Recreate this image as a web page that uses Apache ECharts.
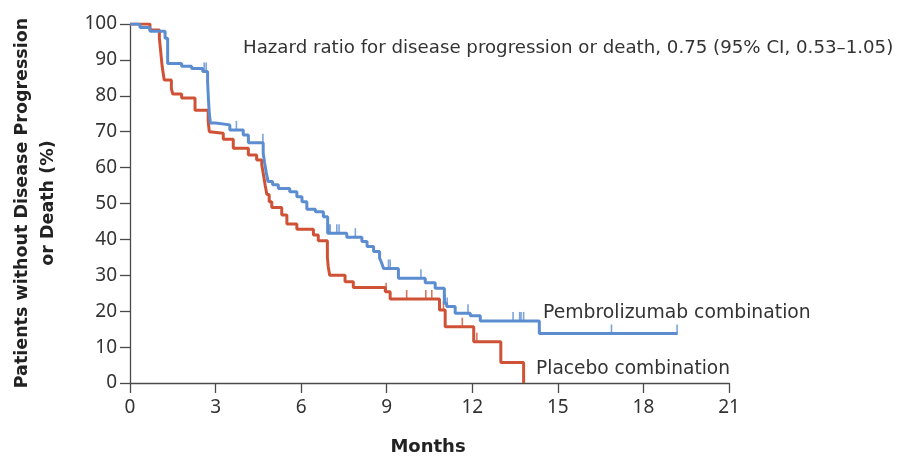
<!DOCTYPE html>
<html>
<head>
<meta charset="utf-8">
<script src="https://cdn.jsdelivr.net/npm/echarts@6/dist/echarts.min.js"></script>
<style>
  html, body { margin: 0; padding: 0; background: #fff; }
  #chart { width: 907px; height: 458px; }
</style>
</head>
<body>
<div id="chart"></div>
<script>
// Kaplan-Meier step curves: event times (months) and survival (%)
const pembroTimes = [0, 0.35, 0.7, 1.23, 1.32, 1.81, 2.16, 2.55, 2.72, 2.75, 2.78, 2.82, 3.0, 3.5, 3.97, 4.15, 4.67, 4.72, 4.78, 4.84, 5.0, 5.2, 5.6, 5.85, 6.03, 6.2, 6.5, 6.78, 6.93, 7.6, 8.13, 8.31, 8.54, 8.75, 8.82, 8.89, 9.41, 10.35, 10.7, 11.02, 11.1, 11.4, 11.93, 12.28, 14.35, 19.2];
const pembroValues = [100, 99, 98, 96, 89, 88.2, 87.6, 86.8, 84, 79, 75, 72.4, 71.9, 70.5, 69.1, 66.9, 64, 61.3, 58.5, 56.1, 55.2, 54.2, 53.3, 51.9, 50.5, 48.4, 47.7, 46.3, 41.7, 40.6, 39.4, 38, 36.6, 34.8, 33.5, 31.9, 29.2, 27.9, 26.4, 22.2, 21.3, 19.4, 18.7, 17.3, 13.8, 13.8];
const pembroCensored = [2.6, 2.67, 3.73, 4.66, 6.98, 7.02, 7.25, 7.33, 7.9, 9.06, 9.12, 10.2, 11.05, 11.12, 11.85, 13.43, 13.66, 13.71, 13.8, 16.88, 19.18];

const placeboTimes = [0, 0.7, 1.03, 1.08, 1.13, 1.2, 1.45, 1.5, 1.81, 2.28, 2.74, 2.78, 2.8, 3.27, 3.62, 4.15, 4.44, 4.62, 4.68, 4.74, 4.8, 4.88, 4.97, 5.32, 5.5, 5.85, 6.43, 6.6, 6.92, 6.95, 7.0, 7.54, 7.83, 8.95, 9.12, 10.85, 11.05, 12.05, 13.0, 13.8];
const placeboValues = [100, 98.3, 96, 92, 88, 84.4, 82, 80.5, 79.4, 76, 73, 70, 69.6, 67.9, 65.4, 63.5, 62.1, 60.7, 58, 55, 52.5, 50.5, 48.9, 46.8, 44.3, 42.8, 41.2, 39.6, 35, 32.4, 30, 28.2, 26.6, 25.4, 23.4, 20.3, 15.7, 11.5, 5.7, 0];
const placeboCensored = [8.98, 9.7, 10.37, 10.58, 10.99, 11.05, 11.65, 12.16];

const xTicks = [0, 3, 6, 9, 12, 15, 18, 21];
const yTicks = [0, 10, 20, 30, 40, 50, 60, 70, 80, 90, 100];

const BLUE = '#5b8dd0';
const RED = '#cf5236';
const FONT = 'DejaVu Sans';
const TICK_FONT = 'Noto Sans';

function pairs(times, values) {
  return times.map((t, i) => [t, values[i]]);
}
// survival level of a step curve at time t
function levelAt(times, values, t) {
  let v = values[0];
  for (let i = 0; i < times.length; i++) {
    if (times[i] <= t) v = values[i]; else break;
  }
  return v;
}
function censorPoints(cens, times, values) {
  return cens.map(t => [t, levelAt(times, values, t)]);
}

const chart = echarts.init(document.getElementById('chart'), null, { renderer: 'canvas' });

const censorStyle = (color) => ({
  type: 'scatter',
  symbol: 'rect',
  symbolSize: [1.6, 9],
  symbolOffset: [0, -4.5],
  itemStyle: { color: color },
  silent: true,
  z: 3
});

const axisColor = '#4a4a4a';

chart.setOption({
  animation: false,
  backgroundColor: '#ffffff',
  grid: { left: 130, right: 178, top: 24, bottom: 75, containLabel: false },
  xAxis: {
    type: 'value',
    min: 0, max: 21, interval: 3,
    axisLine: { show: true, lineStyle: { color: axisColor, width: 1.3 } },
    axisTick: { show: true, length: 10, inside: false, lineStyle: { color: axisColor, width: 1.3 } },
    axisLabel: { color: '#333', fontFamily: TICK_FONT, fontSize: 19, margin: 15,
      formatter: v => xTicks.includes(v) ? String(v) : '' },
    splitLine: { show: false }
  },
  yAxis: {
    type: 'value',
    min: 0, max: 100, interval: 10,
    axisLine: { show: true, lineStyle: { color: axisColor, width: 1.3 } },
    axisTick: { show: true, length: 10, inside: false, lineStyle: { color: axisColor, width: 1.3 } },
    axisLabel: { color: '#333', fontFamily: TICK_FONT, fontSize: 19, margin: 13,
      formatter: v => yTicks.includes(v) ? String(v) : '' },
    splitLine: { show: false }
  },
  series: [
    {
      name: 'Placebo combination',
      type: 'line', step: 'end', symbol: 'none',
      data: pairs(placeboTimes, placeboValues),
      lineStyle: { color: RED, width: 3 }, z: 2
    },
    Object.assign(censorStyle(RED), { data: censorPoints(placeboCensored, placeboTimes, placeboValues) }),
    {
      name: 'Pembrolizumab combination',
      type: 'line', step: 'end', symbol: 'none',
      data: pairs(pembroTimes, pembroValues),
      lineStyle: { color: BLUE, width: 3 }, z: 4
    },
    Object.assign(censorStyle(BLUE), { data: censorPoints(pembroCensored, pembroTimes, pembroValues), z: 5 })
  ],
  graphic: [
    {
      type: 'text', x: 243, y: 48,
      style: { text: 'Hazard ratio for disease progression or death, 0.75 (95% CI, 0.53\u20131.05)',
        fill: '#333', font: '18.2px "' + FONT + '"', textVerticalAlign: 'middle', textAlign: 'left' }
    },
    {
      type: 'text', x: 543, y: 313,
      style: { text: 'Pembrolizumab combination', fill: '#333', font: '18.8px "' + FONT + '"',
        textVerticalAlign: 'middle', textAlign: 'left' }
    },
    {
      type: 'text', x: 536, y: 369,
      style: { text: 'Placebo combination', fill: '#333', font: '18.6px "' + FONT + '"',
        textVerticalAlign: 'middle', textAlign: 'left' }
    },
    {
      type: 'text', x: 428, y: 447,
      style: { text: 'Months', fill: '#222', font: 'bold 18px "' + FONT + '"',
        textVerticalAlign: 'middle', textAlign: 'center' }
    },
    {
      type: 'text', x: 35, y: 203, rotation: Math.PI / 2,
      style: { text: 'Patients without Disease Progression\nor Death (%)', fill: '#222',
        font: 'bold 17.5px "' + FONT + '"', lineHeight: 26,
        textVerticalAlign: 'middle', textAlign: 'center' }
    }
  ]
});
</script>
</body>
</html>
